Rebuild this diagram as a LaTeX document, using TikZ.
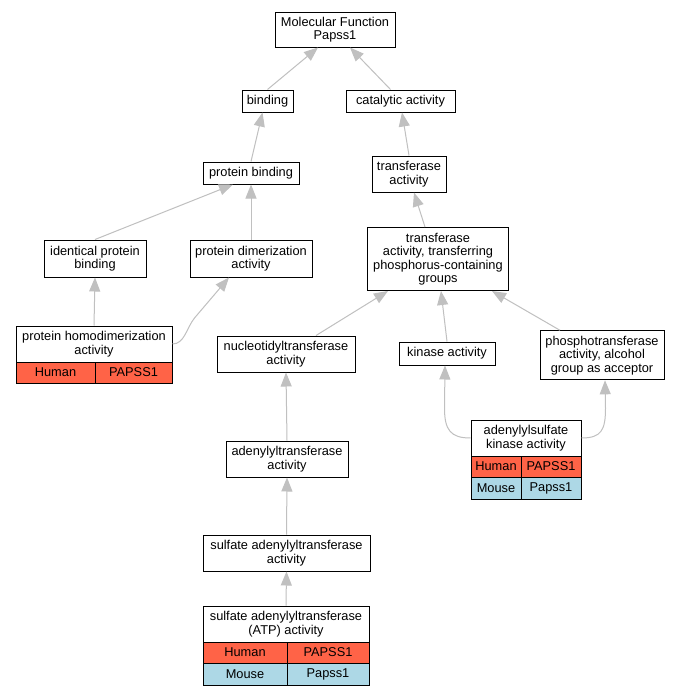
\documentclass[tikz,border=0pt]{standalone}
\usepackage{fontspec}
\setmainfont{Liberation Sans}
\usetikzlibrary{arrows.meta}
\definecolor{edgegray}{HTML}{C0C0C0}
\definecolor{human}{HTML}{FF6347}
\definecolor{mouse}{HTML}{ADD8E6}
\begin{document}
\begin{tikzpicture}[x=1pt,y=-1pt,
  every node/.style={font=\fontsize{12.8}{13.4}\selectfont, inner sep=0pt, align=center},
  box/.style={draw=black, line width=1pt, fill=white},
  hcell/.style={draw=black, line width=1pt, fill=human, minimum height=21pt},
  mcell/.style={draw=black, line width=1pt, fill=mouse, minimum height=22pt},
  edge/.style={draw=edgegray, line width=1pt, -{Triangle[length=14pt,width=11pt]}}
]
\useasboundingbox (0,0) rectangle (679,696);
\fill[white] (0,0) rectangle (679,696);

% plain nodes
\node[box, minimum width=120pt, minimum height=35pt] (mf) at (335,29.5) {Molecular Function\\Papss1};
\node[box, minimum width=51pt, minimum height=22pt] (bind) at (267.5,101) {binding};
\node[box, minimum width=109pt, minimum height=22pt] (cat) at (400.5,101) {catalytic activity};
\node[box, minimum width=96pt, minimum height=22pt] (pb) at (251,173) {protein binding};
\node[box, minimum width=74pt, minimum height=36pt] (tr) at (409,174) {transferase\\activity};
\node[box, minimum width=102pt, minimum height=37pt] (ipb) at (95,258.5) {identical protein\\binding};
\node[box, minimum width=122pt, minimum height=37pt] (pda) at (251,258.5) {protein dimerization\\activity};
\node[box, minimum width=141pt, minimum height=63pt] (ttp) at (438,259) {transferase\\activity, transferring\\phosphorus-containing\\groups};
\node[box, minimum width=138pt, minimum height=36pt] (nt) at (286,354) {nucleotidyltransferase\\activity};
\node[box, minimum width=96pt, minimum height=23pt] (kin) at (447,353.5) {kinase activity};
\node[box, minimum width=124pt, minimum height=49pt] (pt) at (602,355.3) {phosphotransferase\\activity, alcohol\\group as acceptor};
\node[box, minimum width=122pt, minimum height=36pt] (at) at (287,459) {adenylyltransferase\\activity};
\node[box, minimum width=167pt, minimum height=36pt] (sat) at (286.5,553) {sulfate adenylyltransferase\\activity};

% table: protein homodimerization activity
\node[box, minimum width=156pt, minimum height=36pt] (phdh) at (94,344) {protein homodimerization\\activity};
\node[hcell, minimum width=79pt] (phdhu) at (55.5,372.5) {Human};
\node[hcell, minimum width=77pt] (phdhg) at (133.5,372.5) {PAPSS1};

% table: adenylylsulfate kinase activity
\node[box, minimum width=110pt, minimum height=36pt] (akh) at (526,438) {adenylylsulfate\\kinase activity};
\node[hcell, minimum width=50pt] (akhu) at (496,466.5) {Human};
\node[hcell, minimum width=60pt] (akhg) at (551,466.5) {PAPSS1};
\node[mcell, minimum width=50pt] (akmo) at (496,488) {Mouse};
\node[mcell, minimum width=60pt] (akmg) at (551,488) {Papss1};

% table: sulfate adenylyltransferase (ATP) activity
\node[box, minimum width=166pt, minimum height=36pt] (atph) at (286,624) {sulfate adenylyltransferase\\(ATP) activity};
\node[hcell, minimum width=84pt] (atphu) at (245,652.5) {Human};
\node[hcell, minimum width=82pt] (atphg) at (328,652.5) {PAPSS1};
\node[mcell, minimum width=84pt] (atpmo) at (245,674) {Mouse};
\node[mcell, minimum width=82pt] (atpmg) at (328,674) {Papss1};

% edges
\draw[edge] (bind.north) -- ([xshift=-17pt]mf.south);
\draw[edge] ([xshift=-10pt]cat.north) -- ([xshift=15pt]mf.south);
\draw[edge] (pb.north) -- ([xshift=-5pt]bind.south);
\draw[edge] (tr.north) -- ([xshift=1.5pt]cat.south);
\draw[edge] (ipb.north) -- ([xshift=-18pt]pb.south);
\draw[edge] (pda.north) -- (pb.south);
\draw[edge] ([xshift=-13pt]ttp.north) -- ([xshift=5pt]tr.south);
\draw[edge] (phdh.north) -- (ipb.south);
\draw[edge] (phdh.east) .. controls +(12,0) and +(-8,10) .. ++(22,-26) -- ([xshift=-22pt]pda.south);
\draw[edge] ([xshift=30pt]nt.north) -- ([xshift=-50pt]ttp.south);
\draw[edge] (kin.north) -- ([xshift=3pt]ttp.south);
\draw[edge] ([xshift=-42pt]pt.north) -- ([xshift=54pt]ttp.south);
\draw[edge] (akh.west) .. controls +(-20,0) and +(0,22) .. ++(-26,-30) -- ([xshift=-2pt]kin.south);
\draw[edge] (akh.east) .. controls +(20,0) and +(0,22) .. ++(24,-30) -- ([xshift=3pt]pt.south);
\draw[edge] (at.north) -- (nt.south);
\draw[edge] (sat.north) -- (at.south);
\draw[edge] (atph.north) -- (sat.south);
\end{tikzpicture}
\end{document}
